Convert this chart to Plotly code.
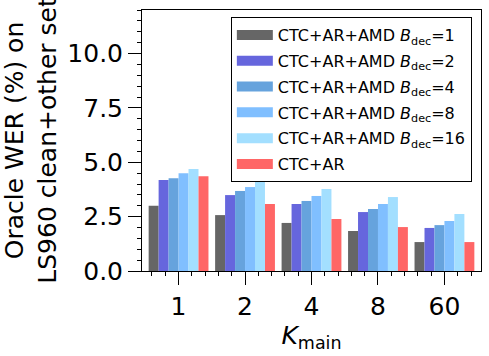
import plotly.graph_objects as go

# data
k_labels = ["1", "2", "4", "8", "60"]
k_pos = [0, 1, 2, 3, 4]

wer_b1 = [3.00, 2.57, 2.21, 1.84, 1.33]
wer_b2 = [4.18, 3.49, 3.08, 2.71, 1.98]
wer_b4 = [4.27, 3.68, 3.22, 2.85, 2.11]
wer_b8 = [4.50, 3.86, 3.45, 3.08, 2.30]
wer_b16 = [4.69, 4.18, 3.77, 3.40, 2.62]
wer_ctc_ar = [4.36, 3.08, 2.39, 2.02, 1.33]

series_names = [
    "CTC+AR+AMD <i>B</i><sub>dec</sub>=1",
    "CTC+AR+AMD <i>B</i><sub>dec</sub>=2",
    "CTC+AR+AMD <i>B</i><sub>dec</sub>=4",
    "CTC+AR+AMD <i>B</i><sub>dec</sub>=8",
    "CTC+AR+AMD <i>B</i><sub>dec</sub>=16",
    "CTC+AR",
]
series_values = [wer_b1, wer_b2, wer_b4, wer_b8, wer_b16, wer_ctc_ar]
colors = ["#666666", "#6666dd", "#66a3dd", "#80bfff", "#a3dfff", "#ff6666"]

fig = go.Figure()
for i, (name, vals, c) in enumerate(zip(series_names, series_values, colors)):
    fig.add_trace(go.Bar(x=k_pos, y=vals, name=name, legendgroup=str(i), showlegend=False,
                         marker=dict(color=c, line=dict(width=0))))
    # legend-only entry: a thick short line gives the wide matplotlib-style patch
    fig.add_trace(go.Scatter(x=[None], y=[None], mode="lines", name=name, legendgroup=str(i),
                             line=dict(color=c, width=10), hoverinfo="skip"))

font = "DejaVu Sans"
fig.update_layout(
    width=489, height=356,
    margin=dict(l=142, r=8, t=10, b=85),
    plot_bgcolor="white", paper_bgcolor="white",
    barmode="group", bargap=0.1, bargroupgap=0,
    font=dict(family=font, color="black", size=25),
    legend=dict(
        x=0.973, y=0.973, xanchor="right", yanchor="top",
        bordercolor="black", borderwidth=1, bgcolor="white",
        font=dict(size=16), itemwidth=36, tracegroupgap=2,
    ),
)
fig.update_xaxes(
    range=[-0.55, 4.55], tickvals=k_pos, ticktext=k_labels, automargin=False,
    showline=True, linecolor="black", linewidth=1, mirror=True,
    ticks="outside", ticklen=13, tickcolor="black",
    minor=dict(dtick=0.2, tick0=0, ticks="outside", ticklen=4, tickcolor="black"),
    showgrid=False, zeroline=False,
    title=dict(text="<i>K</i><sub>main</sub>", font=dict(size=25), standoff=2),
)
fig.update_yaxes(
    range=[0, 12], tickvals=[0, 2.5, 5, 7.5, 10], ticktext=["0.0", "2.5", "5.0", "7.5", "10.0"],
    automargin=False,
    showline=True, linecolor="black", linewidth=1, mirror=True,
    ticks="outside", ticklen=13, tickcolor="black",
    minor=dict(dtick=0.5, tick0=0, ticks="outside", ticklen=4, tickcolor="black"),
    showgrid=False, zeroline=False,
    title=dict(text="Oracle WER (%) on<br>LS960 clean+other set", font=dict(size=25), standoff=8),
)

# drop the page's default body margin so the figure sits at the window's corner
fig.write_html("out.html", config={"displayModeBar": False},
               post_script="document.body.style.margin='0';")
